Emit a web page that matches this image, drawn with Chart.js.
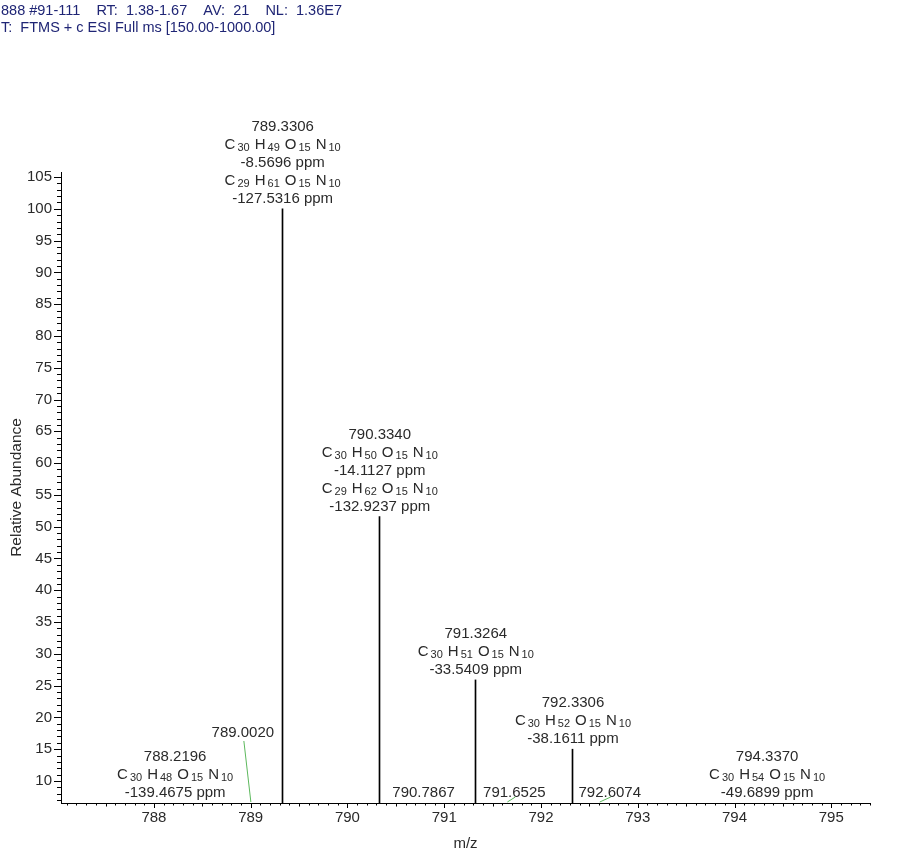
<!DOCTYPE html>
<html>
<head>
<meta charset="utf-8">
<script src="https://cdn.jsdelivr.net/npm/chart.js@4.4.1/dist/chart.umd.min.js"></script>
<style>
  html, body { margin: 0; padding: 0; background: #fff; }
</style>
</head>
<body>
<canvas id="spectrum" width="900" height="858"></canvas>
<script>
// header of the raw file
var headerLines = [
  '888 #91-111    RT:  1.38-1.67    AV:  21    NL:  1.36E7',
  'T:  FTMS + c ESI Full ms [150.00-1000.00]'
];

// centroid peaks (m/z, relative abundance %)
var peakMz = [788.2196, 789.0020, 789.3306, 790.3340, 790.7867, 791.3264, 791.6525, 792.3306, 792.6074, 794.3370];
var peakAbundance = [4.5, 3.0, 100, 51.6, 1.2, 25.9, 1.0, 15.0, 1.0, 5.5];

// annotation text for each peak, top line first
var peakNotes = [
  ['788.2196', 'C30 H48 O15 N10', '-139.4675 ppm'],
  ['789.0020'],
  ['789.3306', 'C30 H49 O15 N10', '-8.5696 ppm', 'C29 H61 O15 N10', '-127.5316 ppm'],
  ['790.3340', 'C30 H50 O15 N10', '-14.1127 ppm', 'C29 H62 O15 N10', '-132.9237 ppm'],
  ['790.7867'],
  ['791.3264', 'C30 H51 O15 N10', '-33.5409 ppm'],
  ['791.6525'],
  ['792.3306', 'C30 H52 O15 N10', '-38.1611 ppm'],
  ['792.6074'],
  ['794.3370', 'C30 H54 O15 N10', '-49.6899 ppm']
];

var xTicks = [788, 789, 790, 791, 792, 793, 794, 795];
var yTicks = [10, 15, 20, 25, 30, 35, 40, 45, 50, 55, 60, 65, 70, 75, 80, 85, 90, 95, 100, 105];
var xRange = [787.04, 795.40];
var yRange = [6.54, 105.79];

// label nudges where the instrument moved a label off its stick (px)
var labelNudge = { 1: [-8, -60], 6: [7, 0], 8: [10, 0] };
var withLeader = { 1: true, 6: true, 8: true };

var textColor = '#2a2a2a';
var font = 'Arial, "Liberation Sans", sans-serif';

function drawFormula(ctx, str, cx, baseY) {
  var parts = str.split(' ').map(function (t) {
    var m = t.match(/^([A-Za-z]+)(\d*)$/);
    return { el: m[1], n: m[2] };
  });
  var big = '15px ' + font, small = '11px ' + font;
  var total = 0;
  parts.forEach(function (p, i) {
    ctx.font = big; total += ctx.measureText(p.el).width + 2;
    ctx.font = small; total += ctx.measureText(p.n).width;
    if (i < parts.length - 1) total += 5;
  });
  var x = cx - total / 2;
  ctx.textAlign = 'left';
  parts.forEach(function (p) {
    ctx.font = big; ctx.fillText(p.el, x, baseY); x += ctx.measureText(p.el).width + 2;
    ctx.font = small; ctx.fillText(p.n, x, baseY + 2); x += ctx.measureText(p.n).width + 5;
  });
}

// keep the 1px sticks on whole pixels so they stay crisp black
var snapPlugin = {
  id: 'snap',
  beforeDatasetsDraw: function (chart) {
    chart.getDatasetMeta(0).data.forEach(function (bar) {
      bar.x = Math.floor(bar.x) + 0.5;
    });
  }
};

var annotatePlugin = {
  id: 'annotate',
  afterDraw: function (chart) {
    var ctx = chart.ctx;
    var xs = chart.scales.x, ys = chart.scales.y;
    var area = chart.chartArea;
    ctx.save();

    // header
    ctx.fillStyle = '#1f2575';
    ctx.font = '14.5px ' + font;
    ctx.textAlign = 'left';
    ctx.textBaseline = 'alphabetic';
    headerLines.forEach(function (l, i) { ctx.fillText(l, 1, 15 + i * 17); });

    // minor ticks
    ctx.strokeStyle = '#000';
    ctx.lineWidth = 1;
    ctx.beginPath();
    for (var k = Math.ceil(yRange[0]); k <= Math.floor(yRange[1]); k++) {
      var py = Math.round(ys.getPixelForValue(k)) + 0.5;
      var len = k % 5 === 0 ? 7 : 4;
      ctx.moveTo(area.left - len, py); ctx.lineTo(area.left, py);
    }
    for (var j = Math.ceil(xRange[0] * 10); j <= Math.floor(xRange[1] * 10); j++) {
      var px = Math.round(xs.getPixelForValue(j / 10)) + 0.5;
      var l2 = j % 10 === 0 ? 5 : (j % 5 === 0 ? 3.5 : 2.5);
      ctx.moveTo(px, area.bottom); ctx.lineTo(px, area.bottom + l2);
    }
    ctx.stroke();

    // peak labels
    ctx.fillStyle = textColor;
    ctx.textBaseline = 'alphabetic';
    peakMz.forEach(function (mz, i) {
      var px = xs.getPixelForValue(mz);
      var top = Math.min(ys.getPixelForValue(Math.max(peakAbundance[i], yRange[0])), area.bottom);
      var nudge = labelNudge[i] || [0, 0];
      var lx = px + nudge[0];
      var base = top - 6 + nudge[1];
      var lines = peakNotes[i];
      lines.forEach(function (line, n) {
        var y = base - (lines.length - 1 - n) * 18;
        if (/^[A-Z][a-z]?\d/.test(line)) {
          drawFormula(ctx, line, lx, y);
        } else {
          ctx.font = '15px ' + font;
          ctx.textAlign = 'center';
          ctx.fillText(line, lx, y);
        }
      });
      if (withLeader[i]) {
        ctx.strokeStyle = '#5cb85c';
        ctx.beginPath();
        ctx.moveTo(px, area.bottom - 1);
        ctx.lineTo(lx + 1, Math.min(base + 4, area.bottom - 6));
        ctx.stroke();
      }
    });
    ctx.restore();
  }
};

var ctx = document.getElementById('spectrum').getContext('2d');
var chart = new Chart(ctx, {
  type: 'bar',
  data: {
    datasets: [{
      label: 'spectrum',
      data: peakMz.map(function (m, i) { return { x: m, y: peakAbundance[i] }; }),
      backgroundColor: '#000',
      barThickness: 1
    }]
  },
  options: {
    responsive: false,
    devicePixelRatio: 1,
    animation: false,
    layout: { padding: { top: 172, right: 30, left: 0, bottom: 0 } },
    plugins: { legend: { display: false }, tooltip: { enabled: false } },
    scales: {
      x: {
        type: 'linear',
        min: xRange[0], max: xRange[1],
        offset: false,
        afterFit: function (s) { s.height = 55; },
        afterBuildTicks: function (s) { s.ticks = xTicks.map(function (v) { return { value: v }; }); },
        grid: { display: false, drawTicks: false },
        border: { display: true, color: '#000', width: 1 },
        ticks: { color: textColor, font: { family: font, size: 15 }, padding: 6, maxRotation: 0, autoSkip: false },
        title: { display: true, text: 'm/z', color: textColor, font: { family: font, size: 15 }, padding: { top: 0, bottom: 5 } }
      },
      y: {
        min: yRange[0], max: yRange[1],
        afterFit: function (s) { s.width = 61; },
        afterBuildTicks: function (s) { s.ticks = yTicks.map(function (v) { return { value: v }; }); },
        grid: { display: false, drawTicks: false },
        border: { display: true, color: '#000', width: 1 },
        ticks: { color: textColor, font: { family: font, size: 15 }, padding: 9, autoSkip: false },
        title: { display: true, text: 'Relative Abundance', color: textColor, font: { family: font, size: 15.5 }, padding: { top: 7, bottom: 0 } }
      }
    }
  },
  plugins: [snapPlugin, annotatePlugin]
});
</script>
</body>
</html>
